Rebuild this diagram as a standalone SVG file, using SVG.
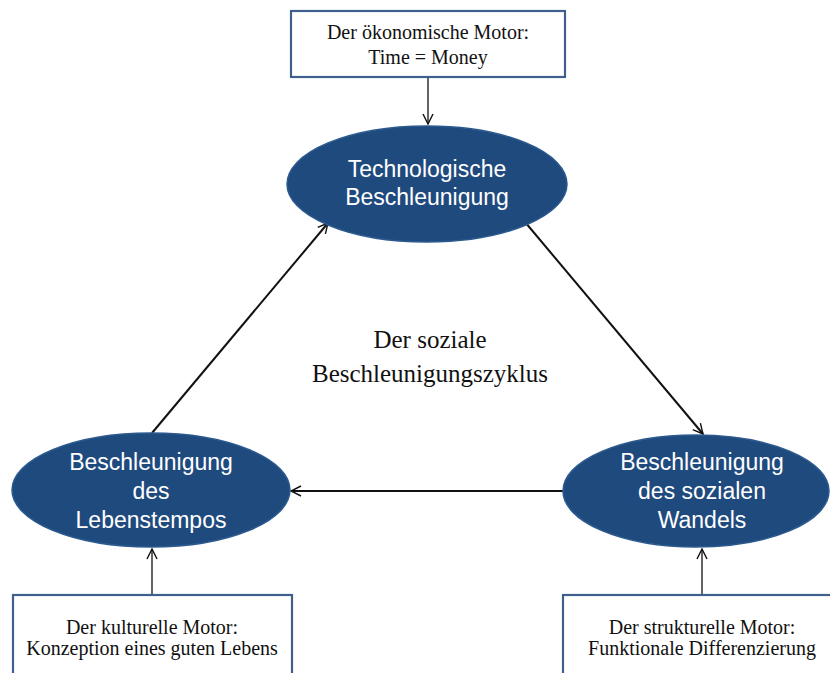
<svg xmlns="http://www.w3.org/2000/svg" width="830" height="673" viewBox="0 0 830 673">
<style>
.box{fill:#fff;stroke:#3f5f8c;stroke-width:2.2}
.ell{fill:#1f4a7e;stroke:#2c5a8f;stroke-width:1.5}
.et{font-family:"Liberation Sans","Open Sans",sans-serif;font-size:23px;fill:#fff;text-anchor:middle}
.bt{font-family:"Liberation Serif","Times New Roman",serif;font-size:20px;fill:#111;text-anchor:middle}
.ct{font-family:"Liberation Serif","Times New Roman",serif;font-size:25px;fill:#111;text-anchor:middle}
.thin{stroke:#111;stroke-width:1.3;fill:none}
.thick{stroke:#111;stroke-width:2;fill:none}
</style>
<defs>
<marker id="ah" viewBox="0 0 12 12" refX="11" refY="6" markerWidth="12" markerHeight="12" markerUnits="userSpaceOnUse" orient="auto">
<path d="M1,1 L11,6 L1,11" fill="none" stroke="#111" stroke-width="1.4"/>
</marker>
</defs>
<rect width="830" height="673" fill="#fff"/>
<g id="connectors">
<line class="thin" x1="428" y1="77" x2="428" y2="124" marker-end="url(#ah)"/>
<line class="thick" x1="152" y1="433" x2="328" y2="223" marker-end="url(#ah)"/>
<line class="thick" x1="525" y1="222" x2="703" y2="434" marker-end="url(#ah)"/>
<line class="thick" x1="563" y1="491" x2="291" y2="491" marker-end="url(#ah)"/>
<line class="thin" x1="152" y1="595" x2="152" y2="549" marker-end="url(#ah)"/>
<line class="thin" x1="702" y1="595" x2="702" y2="549" marker-end="url(#ah)"/>
</g>
<g id="motor-oekonomisch">
<rect class="box" x="291" y="11" width="274" height="66"/>
<text class="bt" x="428" y="39">Der ökonomische Motor:</text>
<text class="bt" x="428" y="64">Time = Money</text>
</g>
<g id="tech">
<ellipse class="ell" cx="427" cy="184" rx="140" ry="58"/>
<text class="et" x="427" y="177">Technologische</text>
<text class="et" x="427" y="205">Beschleunigung</text>
</g>
<g id="leben">
<ellipse class="ell" cx="151" cy="490" rx="139" ry="57"/>
<text class="et" x="151" y="470">Beschleunigung</text>
<text class="et" x="151" y="499">des</text>
<text class="et" x="151" y="528">Lebenstempos</text>
</g>
<g id="wandel">
<ellipse class="ell" cx="696" cy="491" rx="133" ry="56"/>
<text class="et" x="702" y="470">Beschleunigung</text>
<text class="et" x="702" y="499">des sozialen</text>
<text class="et" x="702" y="528">Wandels</text>
</g>
<g id="zyklus">
<text class="ct" x="430" y="348">Der soziale</text>
<text class="ct" x="430" y="382">Beschleunigungszyklus</text>
</g>
<g id="motor-kulturell">
<rect class="box" x="13" y="595" width="279" height="90"/>
<text class="bt" x="152" y="634">Der kulturelle Motor:</text>
<text class="bt" x="152" y="655">Konzeption eines guten Lebens</text>
</g>
<g id="motor-strukturell">
<rect class="box" x="563" y="595" width="280" height="90"/>
<text class="bt" x="702" y="634">Der strukturelle Motor:</text>
<text class="bt" x="702" y="655">Funktionale Differenzierung</text>
</g>
</svg>
